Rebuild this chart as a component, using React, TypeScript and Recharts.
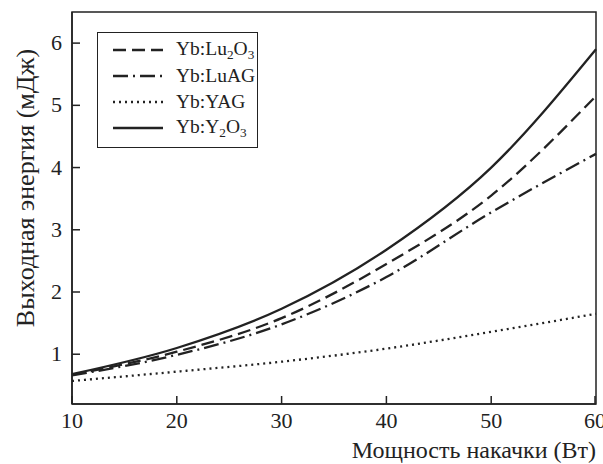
import React from 'react';
import { LineChart, Line, XAxis, YAxis, ReferenceArea, Legend } from 'recharts';

const FONT = '"Liberation Serif", "Times New Roman", serif';
const INK = '#222';

// pump power, W
const power = [10, 20, 30, 40, 50, 60];
// output energy, mJ
const lu2o3 = [0.67, 1.04, 1.58, 2.45, 3.55, 5.15];
const luag = [0.66, 0.99, 1.48, 2.24, 3.28, 4.22];
const yag = [0.57, 0.72, 0.88, 1.09, 1.36, 1.65];
const y2o3 = [0.68, 1.1, 1.73, 2.68, 4.0, 5.9];

const xTicks = [10, 20, 30, 40, 50, 60];
const yTicks = [1, 2, 3, 4, 5, 6];

const seriesOrder = ['Yb:Lu2O3', 'Yb:LuAG', 'Yb:YAG', 'Yb:Y2O3'];

const data = power.map((p, i) => ({
  p,
  lu2o3: lu2o3[i],
  luag: luag[i],
  yag: yag[i],
  y2o3: y2o3[i],
}));

const dashes: Record<string, string | undefined> = {
  'Yb:Lu2O3': '13 6',
  'Yb:LuAG': '15 5 2 5',
  'Yb:YAG': '2 4',
  'Yb:Y2O3': undefined,
};

// subscript the digits of a chemical formula
function Formula({ text }: { text: string }) {
  const parts = text.split(/(\d)/);
  return (
    <>
      {parts.map((p, i) =>
        /^\d$/.test(p) ? (
          <span key={i} style={{ fontSize: '0.68em', position: 'relative', top: '0.3em' }}>{p}</span>
        ) : (
          <span key={i}>{p}</span>
        )
      )}
    </>
  );
}

const renderLegend = (props: any) => {
  const payload = [...(props.payload || [])].sort(
    (a: any, b: any) => seriesOrder.indexOf(a.value) - seriesOrder.indexOf(b.value)
  );
  return (
    <div
      style={{
        border: `1.5px solid ${INK}`,
        width: 161,
        height: 116,
        boxSizing: 'border-box',
        paddingTop: 4,
        fontFamily: FONT,
        fontSize: 19.5,
        color: INK,
        background: '#fff',
        textAlign: 'left',
      }}
    >
      {payload.map((entry: any) => (
        <div key={entry.value} style={{ display: 'flex', alignItems: 'center', height: 26, lineHeight: '26px' }}>
          <svg width={50} height={10} style={{ marginLeft: 15, marginRight: 13, flexShrink: 0 }}>
            <line x1={0} x2={50} y1={5} y2={5} stroke={INK} strokeWidth={2.3} strokeDasharray={dashes[entry.value]} />
          </svg>
          <span style={{ whiteSpace: 'nowrap', flexShrink: 0 }}>
            <Formula text={entry.value} />
          </span>
        </div>
      ))}
    </div>
  );
};

const XTick = (props: any) => {
  const { x, y, payload } = props;
  return (
    <g>
      <line x1={x} x2={x} y1={y} y2={y - 8} stroke={INK} strokeWidth={1.5} />
      <text x={x} y={y + 24} textAnchor="middle" fill={INK} fontSize={22} fontFamily={FONT}>
        {payload.value}
      </text>
    </g>
  );
};

const YTick = (props: any) => {
  const { x, y, payload } = props;
  return (
    <g>
      <line x1={x} x2={x + 8} y1={y} y2={y} stroke={INK} strokeWidth={1.5} />
      <text x={x - 10} y={y + 7} textAnchor="end" fill={INK} fontSize={22} fontFamily={FONT}>
        {payload.value}
      </text>
    </g>
  );
};

export default function App() {
  return (
    <div style={{ position: 'absolute', left: 0, top: 0, background: '#fff' }}>
      <LineChart width={603} height={464} data={data} margin={{ top: 12, right: 7, bottom: 0, left: 0 }}>
        <XAxis
          dataKey="p"
          type="number"
          domain={[10, 60]}
          ticks={xTicks}
          height={60}
          tickSize={0}
          tickMargin={0}
          tickLine={false}
          axisLine={{ stroke: INK, strokeWidth: 1.5 }}
          tick={<XTick />}
          label={{
            content: (p: any) => (
              <text
                x={p.viewBox.x + p.viewBox.width}
                y={p.viewBox.y + 54}
                textAnchor="end"
                fill={INK}
                fontSize={24}
                fontFamily={FONT}
              >
                Мощность накачки (Вт)
              </text>
            ),
          }}
        />
        <YAxis
          type="number"
          domain={[0.2, 6.5]}
          ticks={yTicks}
          width={72}
          tickSize={0}
          tickMargin={0}
          tickLine={false}
          axisLine={{ stroke: INK, strokeWidth: 1.5 }}
          tick={<YTick />}
          label={{
            content: () => (
              <text
                transform="translate(34,188) rotate(-90)"
                textAnchor="middle"
                fill={INK}
                fontSize={26}
                fontFamily={FONT}
              >
                Выходная энергия (мДж)
              </text>
            ),
          }}
        />
        <ReferenceArea x1={10} x2={60} y1={0.2} y2={6.5} fill="none" stroke={INK} strokeWidth={1.5} />
        <Legend
          layout="vertical"
          align="center"
          verticalAlign="middle"
          content={renderLegend}
          wrapperStyle={{ left: 97, top: 32, width: 'auto', height: 'auto' }}
        />
        <Line dataKey="lu2o3" name="Yb:Lu2O3" type="monotone" stroke={INK} strokeWidth={2.3} strokeDasharray={dashes['Yb:Lu2O3']} dot={false} isAnimationActive={false} />
        <Line dataKey="luag" name="Yb:LuAG" type="monotone" stroke={INK} strokeWidth={2.3} strokeDasharray={dashes['Yb:LuAG']} dot={false} isAnimationActive={false} />
        <Line dataKey="yag" name="Yb:YAG" type="monotone" stroke={INK} strokeWidth={2.3} strokeDasharray={dashes['Yb:YAG']} dot={false} isAnimationActive={false} />
        <Line dataKey="y2o3" name="Yb:Y2O3" type="monotone" stroke={INK} strokeWidth={2.3} dot={false} isAnimationActive={false} />
      </LineChart>
    </div>
  );
}
